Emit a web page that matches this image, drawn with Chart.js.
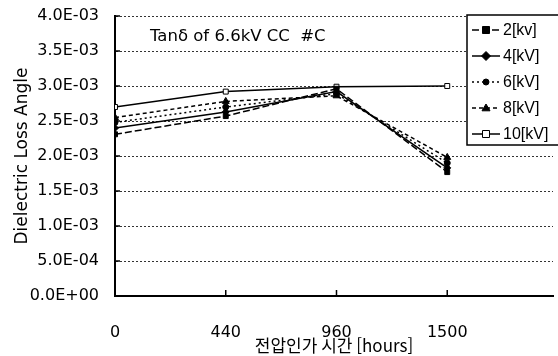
<!DOCTYPE html>
<html lang="ko">
<head>
<meta charset="UTF-8">
<title>Tan delta 6.6kV CC #C</title>
<script src="https://cdn.jsdelivr.net/npm/chart.js"></script>
<style>
    body { margin: 0; padding: 0; background: #fff; }
    #wrap { width: 558px; height: 356px; position: relative; }
</style>
</head>
<body>
<div id="wrap"><canvas id="chart"></canvas></div>
<script>
// data
const xLabels = ['0', '440', '960', '1500'];
const kv2  = [2.31e-3, 2.57e-3, 2.96e-3, 1.77e-3];
const kv4  = [2.40e-3, 2.63e-3, 2.92e-3, 1.83e-3];
const kv6  = [2.48e-3, 2.70e-3, 2.89e-3, 1.90e-3];
const kv8  = [2.55e-3, 2.78e-3, 2.86e-3, 1.98e-3];
const kv10 = [2.70e-3, 2.92e-3, 2.99e-3, 3.00e-3];
const seriesNames = ['2[kv]', '4[kV]', '6[kV]', '8[kV]', '10[kV]'];
const yTicks = [0, 0.5e-3, 1.0e-3, 1.5e-3, 2.0e-3, 2.5e-3, 3.0e-3, 3.5e-3, 4.0e-3];

const tickFont = { family: 'DejaVu Sans', size: 16 };

function fmtExp(v) {
    const parts = v.toExponential(1).split('e');
    const e = parseInt(parts[1], 10);
    const sign = e < 0 ? '-' : '+';
    return parts[0] + 'E' + sign + String(Math.abs(e)).padStart(2, '0');
}

function toPoints(arr) {
    return arr.map((v, i) => ({ x: i, y: v }));
}

const styles = [
    { dash: [7, 3], style: 'rect', radius: 3.5, fill: '#000' },
    { dash: [], style: 'rectRot', radius: 3.5, fill: '#000' },
    { dash: [2, 3], style: 'circle', radius: 3, fill: '#000' },
    { dash: [4, 3], style: 'triangle', radius: 4, fill: '#000' },
    { dash: [], style: 'rect', radius: 3.5, fill: '#fff' }
];
const allSeries = [kv2, kv4, kv6, kv8, kv10];

const datasets = allSeries.map((arr, i) => ({
    label: seriesNames[i],
    data: toPoints(arr),
    borderColor: '#000',
    borderWidth: 1.5,
    borderDash: styles[i].dash,
    pointStyle: styles[i].style,
    pointRadius: styles[i].radius,
    pointBackgroundColor: styles[i].fill,
    pointBorderColor: '#000',
    pointBorderWidth: 1,
    tension: 0
}));

// simple marker drawing for the legend
function drawMarker(ctx, st, x, y) {
    const r = st.radius;
    ctx.save();
    ctx.setLineDash([]);
    ctx.fillStyle = st.fill;
    ctx.strokeStyle = '#000';
    ctx.lineWidth = 1;
    ctx.beginPath();
    if (st.style === 'rect') {
        ctx.rect(x - r, y - r, 2 * r, 2 * r);
    } else if (st.style === 'rectRot') {
        ctx.moveTo(x, y - r - 1); ctx.lineTo(x + r + 1, y); ctx.lineTo(x, y + r + 1); ctx.lineTo(x - r - 1, y);
        ctx.closePath();
    } else if (st.style === 'triangle') {
        ctx.moveTo(x, y - r); ctx.lineTo(x + r, y + r * 0.7); ctx.lineTo(x - r, y + r * 0.7);
        ctx.closePath();
    } else {
        ctx.arc(x, y, r, 0, Math.PI * 2);
    }
    ctx.fill();
    ctx.stroke();
    ctx.restore();
}

const extras = {
    id: 'extras',
    afterDraw(chart) {
        const ctx = chart.ctx;
        const area = chart.chartArea;
        const xs = chart.scales.x, ys = chart.scales.y;
        ctx.save();

        // inner tick marks
        ctx.strokeStyle = '#000';
        ctx.lineWidth = 1.5;
        ctx.setLineDash([]);
        yTicks.forEach(v => {
            const py = ys.getPixelForValue(v);
            ctx.beginPath(); ctx.moveTo(area.left, py); ctx.lineTo(area.left + 5, py); ctx.stroke();
        });
        xLabels.forEach((l, i) => {
            const px = xs.getPixelForValue(i);
            ctx.beginPath(); ctx.moveTo(px, area.bottom); ctx.lineTo(px, area.bottom - 6); ctx.stroke();
        });

        // title inside the plot
        ctx.fillStyle = '#000';
        ctx.font = '16.5px "DejaVu Sans"';
        ctx.textBaseline = 'alphabetic';
        ctx.textAlign = 'left';
        ctx.fillText('Tanδ of 6.6kV CC  #C', 150, 41);

        // legend box
        const lx = 467, ly = 15, lw = 100, lh = 130;
        ctx.fillStyle = '#fff';
        ctx.fillRect(lx, ly, lw, lh);
        ctx.strokeStyle = '#000';
        ctx.lineWidth = 1.5;
        ctx.strokeRect(lx, ly, lw, lh);

        ctx.font = '16px "Liberation Sans"';
        ctx.textBaseline = 'middle';
        seriesNames.forEach((name, i) => {
            const y = 30 + i * 26;
            ctx.strokeStyle = '#000';
            ctx.lineWidth = 1.5;
            ctx.setLineDash(styles[i].dash);
            ctx.beginPath(); ctx.moveTo(472, y); ctx.lineTo(500, y); ctx.stroke();
            drawMarker(ctx, styles[i], 486, y);
            ctx.fillStyle = '#000';
            ctx.fillText(name, 503, y + 1);
        });
        ctx.restore();
    }
};

new Chart(document.getElementById('chart'), {
    type: 'line',
    data: { datasets: datasets },
    options: {
        responsive: true,
        maintainAspectRatio: false,
        animation: false,
        layout: { padding: { top: 16, right: 0, left: 0, bottom: 0 } },
        plugins: {
            legend: { display: false },
            tooltip: { enabled: false }
        },
        scales: {
            x: {
                type: 'linear',
                min: 0,
                max: 3.955,
                afterBuildTicks: scale => { scale.ticks = xLabels.map((l, i) => ({ value: i })); },
                afterFit: scale => { scale.height = 60; scale.paddingLeft = 0; scale.paddingRight = 0; },
                grid: { display: false, drawTicks: false },
                border: { display: true, color: '#000', width: 2 },
                ticks: {
                    callback: v => xLabels[v] !== undefined ? xLabels[v] : '',
                    font: tickFont,
                    color: '#000',
                    padding: 27,
                    maxRotation: 0
                },
                title: {
                    display: true,
                    text: '전압인가 시간 [hours]',
                    font: { family: 'Noto Sans CJK KR', size: 17 },
                    color: '#000',
                    padding: { top: 0, bottom: 0 }
                }
            },
            y: {
                min: 0,
                max: 0.004,
                afterBuildTicks: scale => { scale.ticks = yTicks.map(v => ({ value: v })); },
                afterFit: scale => { scale.width = 115; scale.paddingTop = 0; scale.paddingBottom = 0; },
                grid: { color: '#333', lineWidth: 1, drawTicks: false },
                border: { display: true, color: '#000', width: 2, dash: [2, 2] },
                ticks: {
                    callback: v => fmtExp(v),
                    font: tickFont,
                    color: '#000',
                    padding: 16
                },
                title: {
                    display: true,
                    text: 'Dielectric Loss Angle',
                    font: { family: 'DejaVu Sans', size: 17 },
                    color: '#000',
                    padding: { top: 12, bottom: 0 }
                }
            }
        }
    },
    plugins: [extras]
});
</script>
</body>
</html>
